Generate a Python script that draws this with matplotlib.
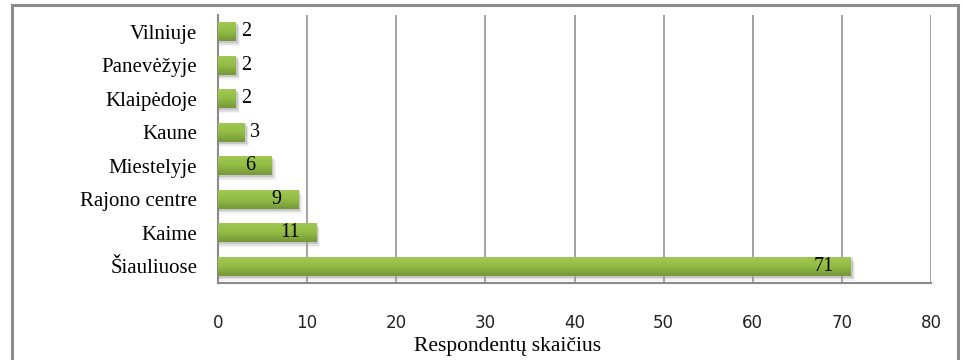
import numpy as np
import matplotlib.pyplot as plt
from matplotlib.patches import Rectangle
from matplotlib.colors import LinearSegmentedColormap

# Respondents by place of residence
places = ['Šiauliuose', 'Kaime', 'Rajono centre', 'Miestelyje',
          'Kaune', 'Klaipėdoje', 'Panevėžyje', 'Vilniuje']
counts = [71, 11, 9, 6, 3, 2, 2, 2]
x_ticks = [0, 10, 20, 30, 40, 50, 60, 70, 80]

serif = ['Liberation Serif', 'DejaVu Serif']
green = LinearSegmentedColormap.from_list('bar_green', ['#76963a', '#93bd45', '#a2c953'])

fig = plt.figure(figsize=(9.63, 3.6), dpi=100)
ax = fig.add_axes([218 / 963, 1 - 283 / 360, 713 / 963, 268 / 360])

ypos = np.arange(len(places))
bar_h = 0.58
bars = ax.barh(ypos, counts, height=bar_h, color='#93bd45', zorder=3)

# drop shadow and vertical gradient on each bar
for b in bars:
    x0, y0 = b.get_x(), b.get_y()
    w, h = b.get_width(), b.get_height()
    for k, a in enumerate([0.35, 0.2, 0.1]):
        ax.add_patch(Rectangle((x0, y0 - 0.05 - 0.05 * k), w + 0.2 + 0.15 * k, h,
                               facecolor='#999999', edgecolor='none', alpha=a, zorder=2))
    grad = np.linspace(0, 1, 50).reshape(-1, 1)
    im = ax.imshow(grad, cmap=green, aspect='auto', origin='lower',
                   extent=(x0, x0 + w, y0, y0 + h), zorder=4)
    im.set_clip_path(b)

# value labels: outside for short bars, inside the end for longer ones
for y, v in zip(ypos, counts):
    if v <= 3:
        ax.annotate(str(v), (v, y), xytext=(4, 0), textcoords='offset points',
                    ha='left', va='center', fontsize=14.5, family=serif, zorder=5)
    else:
        ax.annotate(str(v), (v, y), xytext=(-12, 0), textcoords='offset points',
                    ha='right', va='center', fontsize=14.5, family=serif, zorder=5)

ax.set_xlim(0, 80)
ax.set_ylim(-0.5, len(places) - 0.5)
ax.set_xticks(x_ticks)
ax.set_yticks(ypos)
ax.set_yticklabels(places, family=serif, fontsize=15)
ax.tick_params(axis='x', length=0, pad=22, labelsize=12, labelcolor='#222222')
ax.tick_params(axis='y', length=0, pad=15)
ax.grid(axis='x', color='#8a8a8a', linewidth=1.1, zorder=0)
ax.set_axisbelow(True)
for side in ['top', 'right']:
    ax.spines[side].set_visible(False)
for side in ['left', 'bottom']:
    ax.spines[side].set_color('#8a8a8a')
    ax.spines[side].set_linewidth(1.5)

ax.set_xlabel('Respondentų skaičius', family=serif, fontsize=15.5, va='center')
ax.xaxis.set_label_coords((508 - 218) / 713, -(346 - 283) / 268)

# outer frame around the chart
fig.patches.append(Rectangle((12 / 963, -0.05), 946 / 963, 1.05 - 5 / 360,
                             transform=fig.transFigure, fill=False,
                             edgecolor='#8c8c8c', linewidth=2.2))

fig.savefig('out.png', dpi=100)
